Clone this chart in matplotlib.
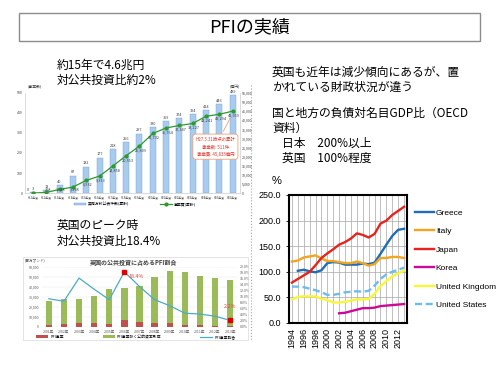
import numpy as np
import matplotlib
matplotlib.use("Agg")
import matplotlib.pyplot as plt
import matplotlib.patches as patches
from matplotlib.lines import Line2D
from matplotlib.ticker import FuncFormatter

plt.rcParams['font.family'] = ['Noto Sans CJK JP', 'DejaVu Sans']

# --- Japan PFI (cumulative) ---
jp_years = ["H11年度", "H12年度", "H13年度", "H14年度", "H15年度", "H16年度", "H17年度", "H18年度",
            "H19年度", "H20年度", "H21年度", "H22年度", "H23年度", "H24年度", "H25年度", "H26年度"]
jp_projects = [3, 13, 40, 87, 132, 177, 218, 256, 297, 330, 359, 374, 394, 414, 446, 489]
jp_cost = [0, 308, 1988, 3268, 6932, 9313, 14858, 20553, 25809, 32732, 35764, 37147, 38227,
           42241, 43294, 45019]

# --- UK public investment and PFI share ---
uk_years = ["2001年", "2002年", "2003年", "2004年", "2005年", "2006年", "2007年", "2008年",
            "2009年", "2010年", "2011年", "2012年", "2013年"]
uk_pfi = [2500, 2600, 4500, 4000, 3500, 7000, 5500, 4500, 4000, 2500, 2000, 1500, 1000]
uk_total = [26000, 28000, 28000, 31500, 38000, 39000, 41000, 50000, 56000, 55000, 51000, 49000, 47000]
uk_share = [9.4, 8.6, 16.3, 12.6, 9.1, 18.4, 13.5, 9.1, 7.1, 4.6, 4.3, 3.6, 2.2]

# --- OECD debt / nominal GDP ---
oecd_years = list(range(1994, 2014))
nan = np.nan
greece = [nan, 102, 104, 101, 99, 103, 117, 119, 118, 114, 114, 114, 116, 115, 118, 135, 153, 170, 182, 184]
italy = [120, 122, 128, 130, 132, 126, 121, 121, 119, 117, 117, 120, 117, 112, 115, 127, 127, 129, 129, 127]
japan = [79, 86, 93, 100, 113, 127, 136, 144, 153, 158, 165, 175, 172, 167, 174, 194, 200, 211, 219, 227]
korea = [nan, nan, nan, nan, nan, nan, nan, nan, 19, 20, 23, 26, 29, 29, 30, 33, 34, 35, 36, 37]
uk = [46, 51, 52, 52, 52, 47, 45, 40, 40, 41, 44, 46, 46, 47, 57, 72, 82, 91, 97, 102]
us = [71, 71, 70, 67, 64, 60, 55, 55, 57, 60, 61, 62, 61, 63, 73, 86, 95, 100, 104, 108]

W, H = 500, 375


def box(x0, y0, x1, y1):
    return [x0 / W, 1 - y1 / H, (x1 - x0) / W, (y1 - y0) / H]


def ftext(x, y, s, **kw):
    kw.setdefault('va', 'center')
    fig.text(x / W, 1 - y / H, s, **kw)


fig = plt.figure(figsize=(5, 3.75), dpi=100)

# title box
fig.add_artist(patches.Rectangle((19 / W, 1 - 41 / H), 461 / W, 28 / H, transform=fig.transFigure,
                                 fill=False, edgecolor='#8C8C8C', lw=1))
ftext(250, 27, "PFIの実績", fontsize=13, ha='center')

# side texts
ftext(57, 65, "約15年で4.6兆円", fontsize=8.5)
ftext(57, 80, "対公共投資比約2%", fontsize=8.5)
ftext(57, 225, "英国のピーク時", fontsize=8.5)
ftext(57, 241, "対公共投資比18.4%", fontsize=8.5)

right_lines = [(272, 72, "英国も近年は減少傾向にあるが、置"),
               (272, 87, "かれている財政状況が違う"),
               (272, 113, "国と地方の負債対名目GDP比（OECD"),
               (272, 128, "資料）"),
               (282, 143, "日本　200%以上"),
               (282, 158, "英国　100%程度")]
for x, y, s in right_lines:
    ftext(x, y, s, fontsize=8.5)

fig.add_artist(Line2D([251 / W] * 2, [1 - 85 / H, 1 - 340 / H], transform=fig.transFigure,
                      ls=':', color='#A6A6A6', lw=0.8))

# ---------------- chart 1 ----------------
ax1 = fig.add_axes(box(25, 93, 240, 193))
x1 = np.arange(len(jp_projects))
bars = ax1.bar(x1, jp_projects, width=0.45, color='#A9CBEE', edgecolor='#6FA3DA', lw=0.3,
               label="実施方針公表件数(累計)")
ax1.set_xlim(-0.6, len(x1) - 0.45)
ax1.set_ylim(0, 500)
ax1.set_yticks(range(0, 501, 100))
ax1.set_xticks(x1)
ax1.set_xticklabels(jp_years)
ax1.tick_params(labelsize=2.6, length=0, pad=1.5, colors='#404040')
ax1.tick_params(axis='x', labelsize=2.1)
ax1.spines['top'].set_visible(False)
for s in ['left', 'bottom', 'right']:
    ax1.spines[s].set_color('#BFBFBF')
    ax1.spines[s].set_linewidth(0.4)
for xi, v in zip(x1, jp_projects):
    ax1.text(xi, v + 6, str(v), ha='center', va='bottom', fontsize=2.8, color='#404040')

ax1r = ax1.twinx()
line1, = ax1r.plot(x1, jp_cost, color='#2E9A2E', lw=0.9, marker='o', ms=2,
                   label="事業費(累計)")
ax1r.set_ylim(0, 55000)
ax1r.set_yticks(range(0, 55001, 5000))
ax1r.yaxis.set_major_formatter(FuncFormatter(lambda v, p: f"{int(v):,}"))
ax1r.tick_params(labelsize=2.6, length=0, pad=1.5, colors='#404040')
for s in ax1r.spines.values():
    s.set_visible(False)
for xi, v in zip(x1, jp_cost):
    if v == 0:
        ax1r.text(xi - 0.3, 1500, f"{v:,}", ha='right', va='center', fontsize=2.8,
                  style='italic', color='#404040')
    else:
        ax1r.text(xi + 0.1, max(v - 1200, 2900), f"{v:,}", ha='center', va='top', fontsize=2.8,
                  style='italic', color='#404040')

ftext(28, 86, "(事業数)", fontsize=2.8, color='#404040')
ftext(240, 86, "(億円)", fontsize=2.8, color='#404040', ha='right')

ax1r.annotate("H27.3.31時点の累計\n事業数: 511件\n事業費: 45,833億円",
              xy=(len(x1) - 1.1, jp_cost[-1] - 2500), xytext=(13.7, 25500),
              fontsize=3.2, color='#E03C31', ha='center', va='center', linespacing=1.6,
              bbox=dict(boxstyle='round,pad=0.6', fc='white', ec='#F0A070', lw=0.6),
              arrowprops=dict(arrowstyle='-', color='#F0A070', lw=0.6))

ax1.legend(handles=[bars, line1], loc='center', bbox_to_anchor=(135 / W, 1 - 204 / H),
           bbox_transform=fig.transFigure, ncol=2, fontsize=2.8, frameon=False,
           columnspacing=8, handlelength=3, handletextpad=0.5)

# ---------------- chart 2 ----------------
fig.add_artist(patches.Rectangle((23 / W, 1 - 340 / H), 225 / W, 83 / H, transform=fig.transFigure,
                                 fill=False, edgecolor='#D9D9D9', lw=0.5))
ax2 = fig.add_axes(box(42, 267, 237, 327))
x2 = np.arange(len(uk_years))
uk_rest = [t - p for t, p in zip(uk_total, uk_pfi)]
b_red = ax2.bar(x2, uk_pfi, width=0.42, color='#C0504D', label="PFI事業")
b_grn = ax2.bar(x2, uk_rest, bottom=uk_pfi, width=0.42, color='#9BBB59',
                label="PFI事業除く公的資本形成")
ax2.set_xlim(-0.45, len(x2) - 0.55)
ax2.set_ylim(0, 60000)
ax2.set_yticks(range(0, 60001, 10000))
ax2.yaxis.set_major_formatter(FuncFormatter(lambda v, p: f"{int(v):,}"))
ax2.set_xticks(x2)
ax2.set_xticklabels(uk_years)
ax2.tick_params(labelsize=2.6, length=0, pad=2, colors='#595959')
ax2.grid(axis='y', color='#E3E3E3', lw=0.3)
ax2.set_axisbelow(True)
for s in ax2.spines.values():
    s.set_visible(False)

ax2r = ax2.twinx()
l_share, = ax2r.plot(x2, uk_share, color='#4BACC6', lw=0.9, label="PFI事業割合")
ax2r.plot([x2[5], x2[-1]], [uk_share[5], uk_share[-1]], ls='none', marker='s', ms=2.6,
          color='#E00000')
ax2r.set_ylim(0, 20)
ax2r.set_yticks(range(0, 21, 2))
ax2r.yaxis.set_major_formatter(FuncFormatter(lambda v, p: f"{v:.1f}%"))
ax2r.tick_params(labelsize=2.6, length=0, pad=2, colors='#595959')
for s in ax2r.spines.values():
    s.set_visible(False)
ax2r.text(x2[5] + 0.3, uk_share[5] - 1.6, f"{uk_share[5]}%", fontsize=3.8, color='#E04040',
          va='center')
ax2r.text(x2[-1], uk_share[-1] + 4.5, f"{uk_share[-1]}%", fontsize=3.8, color='#E04040',
          ha='center', va='center')

ftext(134, 263, "英国の公共投資に占めるPFI割合", fontsize=4.3, ha='center', fontweight='bold',
      color='#404040')
ftext(25, 260, "(百万ポンド)", fontsize=2.6, color='#595959')
ax2.legend(handles=[b_red, b_grn, l_share], loc='center', bbox_to_anchor=(136 / W, 1 - 337 / H),
           bbox_transform=fig.transFigure, ncol=3, fontsize=2.8, frameon=False,
           columnspacing=10, handlelength=3, handletextpad=0.6)

# ---------------- chart 3 ----------------
ax3 = fig.add_axes(box(289, 195, 407, 323))
series = [("Greece", greece, '#1F6DB5', '-'),
          ("Italy", italy, '#F2A51F', '-'),
          ("Japan", japan, '#E8231E', '-'),
          ("Korea", korea, '#CC0A99', '-'),
          ("United Kingdom", uk, '#F7F738', '-'),
          ("United States", us, '#6DBBF0', '--')]
for name, vals, col, ls in series:
    ax3.plot(oecd_years, vals, color=col, lw=1.7, ls=ls, label=name,
             dashes=(3, 1.5) if ls == '--' else (None, None))
ax3.set_xlim(1993.5, 2013.5)
ax3.set_ylim(0, 250)
ax3.set_yticks(range(0, 251, 50))
ax3.yaxis.set_major_formatter(FuncFormatter(lambda v, p: f"{v:.1f}"))
ax3.set_xticks(range(1994, 2013, 2))
ax3.set_xticks(oecd_years, minor=True)
ax3.tick_params(axis='x', which='both', length=0)
ax3.tick_params(axis='y', length=2.5, width=0.6)
for lab in ax3.get_xticklabels():
    lab.set_rotation(90)
    lab.set_fontsize(6.5)
    lab.set_family('Liberation Sans')
for lab in ax3.get_yticklabels():
    lab.set_fontsize(6.5)
    lab.set_family('Liberation Sans')
ax3.grid(axis='x', which='both', color='#A6A6A6', lw=0.5)
ax3.grid(axis='y', color='#A6A6A6', lw=0.5)
ax3.set_axisbelow(True)
for s in ax3.spines.values():
    s.set_linewidth(1.5)
    s.set_color('black')
ftext(272, 181, "%", fontsize=8, family='Liberation Sans')

ax3.legend(loc='upper left', bbox_to_anchor=(415 / W, 1 - 209 / H), bbox_transform=fig.transFigure,
           frameon=False, prop={'family': 'Liberation Sans', 'size': 6}, handlelength=2.3,
           handletextpad=0.2, labelspacing=1.28, borderpad=0, borderaxespad=0)

fig.savefig("out.png", dpi=100)
